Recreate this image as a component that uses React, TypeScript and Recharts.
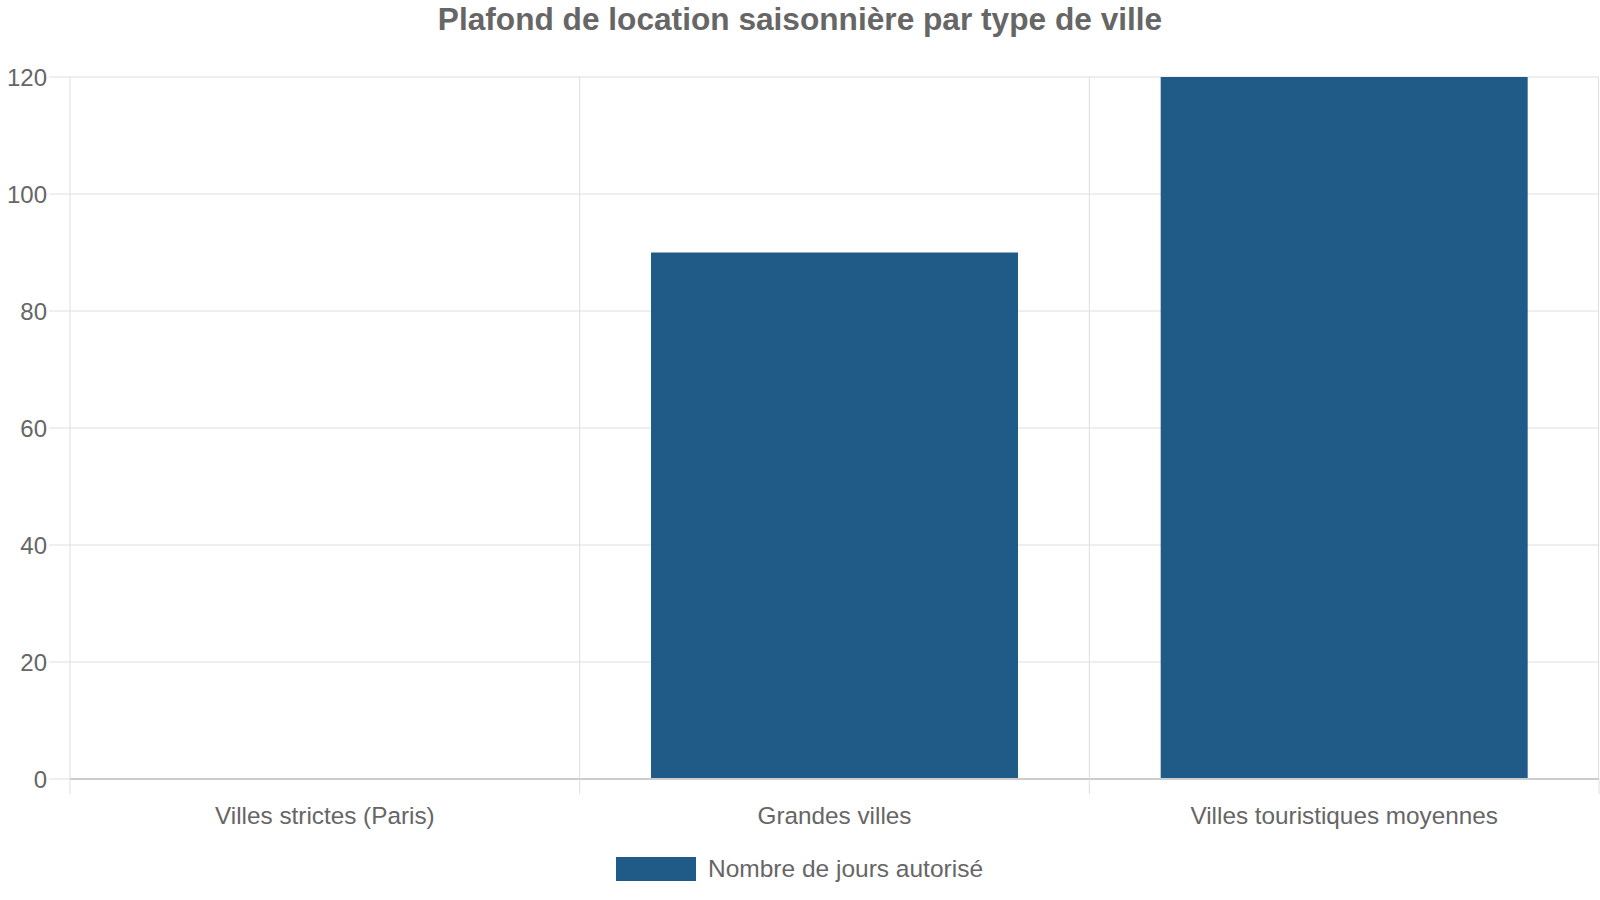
import React from 'react';
import {
  BarChart,
  Bar,
  XAxis,
  YAxis,
  CartesianGrid,
  Legend,
} from 'recharts';

const CATEGORIES = ['Villes strictes (Paris)', 'Grandes villes', 'Villes touristiques moyennes'];
const JOURS = [0, 90, 120];
const Y_TICKS = [0, 20, 40, 60, 80, 100, 120];
const SERIES_NAME = 'Nombre de jours autorisé';

const data = CATEGORIES.map((name, i) => ({ name, jours: JOURS[i] }));

const W = 1600;
const H = 900;
const LEFT = 70;
const RIGHT = 1;
const TEXT = '#666666';
const GRID = '#dedede';
const BAR = '#1f5b86';
const FONT = '"Liberation Sans", Arial, sans-serif';

const plotWidth = W - LEFT - RIGHT;
const band = plotWidth / CATEGORIES.length;

const XTick = (props: any) => {
  const { x, y, payload, index } = props;
  return (
    <g>
      <line x1={x - band / 2} x2={x - band / 2} y1={y} y2={y + 15} stroke={GRID} />
      {index === CATEGORIES.length - 1 && (
        <line x1={x + band / 2} x2={x + band / 2} y1={y} y2={y + 15} stroke={GRID} />
      )}
      <text x={x} y={y + 36} textAnchor="middle" dominantBaseline="central" fill={TEXT} fontSize={24.3} fontFamily={FONT}>
        {payload.value}
      </text>
    </g>
  );
};

const LegendContent = () => (
  <div style={{ display: 'flex', justifyContent: 'center', alignItems: 'center', paddingTop: 26 }}>
    <span style={{ display: 'inline-block', width: 80, height: 24, background: BAR, marginRight: 12 }} />
    <span style={{ color: TEXT, fontSize: 24.5, fontFamily: FONT }}>{SERIES_NAME}</span>
  </div>
);

const App: React.FC = () => {
  return (
    <div style={{ position: 'absolute', left: 0, top: 0, width: W, height: H, background: '#fff' }}>
      <div
        style={{
          position: 'absolute',
          top: 0,
          left: 0,
          width: W,
          textAlign: 'center',
          lineHeight: '38px',
          fontFamily: FONT,
          fontWeight: 'bold',
          fontSize: 31.65,
          color: TEXT,
        }}
      >
        Plafond de location saisonnière par type de ville
      </div>
      <BarChart
        width={W}
        height={H}
        data={data}
        margin={{ top: 77, right: RIGHT, left: 0, bottom: 0 }}
        barCategoryGap="14%"
      >
        <CartesianGrid
          stroke={GRID}
          verticalCoordinatesGenerator={({ offset }: any) =>
            CATEGORIES.map((_, i) => offset.left + (offset.width / CATEGORIES.length) * i).concat([offset.left + offset.width - 0.5])
          }
        />
        <XAxis
          dataKey="name"
          height={50}
          tickSize={0}
          tickMargin={0}
          tick={<XTick />}
          axisLine={{ stroke: '#cccccc', strokeWidth: 2 }}
          interval={0}
        />
        <YAxis
          width={LEFT}
          domain={[0, 120]}
          ticks={Y_TICKS}
          tickSize={21}
          tickMargin={2}
          tickLine={{ stroke: GRID }}
          axisLine={false}
          tick={{ fill: TEXT, fontSize: 24, fontFamily: FONT }}
        />
        <Legend verticalAlign="bottom" height={71} content={<LegendContent />} />
        <Bar dataKey="jours" name={SERIES_NAME} fill={BAR} isAnimationActive={false} />
      </BarChart>
    </div>
  );
};

export default App;
